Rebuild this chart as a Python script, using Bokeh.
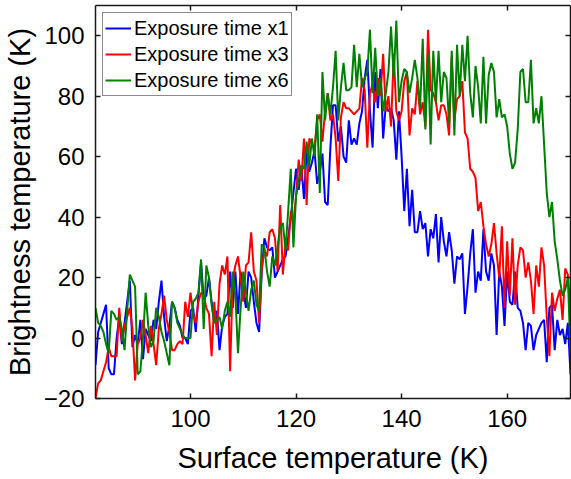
from bokeh.plotting import figure
from bokeh.models import LinearAxis, FixedTicker, Range1d, Legend, LegendItem
from bokeh.embed import file_html
from bokeh.resources import INLINE

# Surface temperature (K), 0.5 K steps
surface_temp = [
    82.0, 82.5, 83.0, 83.5, 84.0, 84.5, 85.0, 85.5, 86.0, 86.5,
    87.0, 87.5, 88.0, 88.5, 89.0, 89.5, 90.0, 90.5, 91.0, 91.5,
    92.0, 92.5, 93.0, 93.5, 94.0, 94.5, 95.0, 95.5, 96.0, 96.5,
    97.0, 97.5, 98.0, 98.5, 99.0, 99.5, 100.0, 100.5, 101.0, 101.5,
    102.0, 102.5, 103.0, 103.5, 104.0, 104.5, 105.0, 105.5, 106.0, 106.5,
    107.0, 107.5, 108.0, 108.5, 109.0, 109.5, 110.0, 110.5, 111.0, 111.5,
    112.0, 112.5, 113.0, 113.5, 114.0, 114.5, 115.0, 115.5, 116.0, 116.5,
    117.0, 117.5, 118.0, 118.5, 119.0, 119.5, 120.0, 120.5, 121.0, 121.5,
    122.0, 122.5, 123.0, 123.5, 124.0, 124.5, 125.0, 125.5, 126.0, 126.5,
    127.0, 127.5, 128.0, 128.5, 129.0, 129.5, 130.0, 130.5, 131.0, 131.5,
    132.0, 132.5, 133.0, 133.5, 134.0, 134.5, 135.0, 135.5, 136.0, 136.5,
    137.0, 137.5, 138.0, 138.5, 139.0, 139.5, 140.0, 140.5, 141.0, 141.5,
    142.0, 142.5, 143.0, 143.5, 144.0, 144.5, 145.0, 145.5, 146.0, 146.5,
    147.0, 147.5, 148.0, 148.5, 149.0, 149.5, 150.0, 150.5, 151.0, 151.5,
    152.0, 152.5, 153.0, 153.5, 154.0, 154.5, 155.0, 155.5, 156.0, 156.5,
    157.0, 157.5, 158.0, 158.5, 159.0, 159.5, 160.0, 160.5, 161.0, 161.5,
    162.0, 162.5, 163.0, 163.5, 164.0, 164.5, 165.0, 165.5, 166.0, 166.5,
    167.0, 167.5, 168.0, 168.5, 169.0, 169.5, 170.0, 170.5, 171.0, 171.5,
    172.0,
]

# Brightness temperature (K), exposure time x1
bt_x1 = [
    -9, 2, 5, 8, 11, -10, -12, -12, 0, 7,
    -2, 5, 12, 19, -3, 1, -2, 6, -7, 3,
    1, -1, 6, 3, 12, 19, 7, -1, 4, 12,
    10, 6, 4, 0, 0, -2, 9, 10, 2, 14,
    25, 13, 14, 20, 12, 5, 9, -4, 4, 7,
    8, 22, 10, 22, 8, 22, 16, 10, 22, 20,
    12, 5, 2, 22, 33, 30, 29, 30, 20, 22,
    24, 26, 27, 33, 40, 48, 56, 49, 57, 46,
    62, 55, 58, 62, 51, 55, 61, 45, 44, 63,
    77, 77, 65, 70, 60, 58, 72, 64, 66, 64,
    71, 75, 86, 92, 75, 63, 88, 76, 89, 66,
    77, 75, 76, 72, 59, 75, 60, 42, 56, 37,
    49, 35, 35, 42, 36, 38, 27, 36, 33, 41,
    25, 40, 32, 27, 35, 29, 18, 27, 26, 28,
    8, 17, 28, 36, 15, 22, 19, 36, 22, 19,
    28, 24, 1, 22, 17, 4, 22, 12, 11, 22,
    10, 9, 5, -4, 5, 4, -4, 1, 3, 5,
    6, -8, 10, 11, -4, 6, 1, 3, -2, 5,
    -12,
]

# Brightness temperature (K), exposure time x3
bt_x3 = [
    -20, -15, -14, -11, -8, -3, -6, -6, -6, 10,
    -1, 4, 7, 10, 3, -14, -2, 0, 6, 1,
    -5, 4, -2, -9, 3, 8, 14, 6, 2, -4,
    -4, -2, -1, -2, 12, 7, 15, 8, 5, 12,
    15, 14, 10, 8, -6, 12, 1, 18, 24, 21,
    27, -11, 19, 24, 27, 20, 12, 24, 25, 35,
    22, 19, 5, 23, 29, 27, 35, 36, 33, 22,
    44, 21, 31, 29, 42, 38, 47, 59, 52, 66,
    44, 66, 64, 63, 72, 74, 65, 75, 81, 72,
    74, 66, 52, 73, 78, 76, 76, 75, 74, 75,
    76, 86, 82, 63, 81, 84, 78, 86, 80, 94,
    75, 80, 70, 94, 75, 72, 75, 85, 88, 67,
    76, 74, 85, 74, 78, 70, 102, 82, 81, 78,
    72, 77, 77, 74, 67, 93, 72, 79, 80, 85,
    68, 66, 56, 55, 53, 42, 45, 37, 31, 27,
    31, 38, 28, 20, 37, 10, 32, 14, 33, 11,
    24, 30, 29, 20, 25, 19, 8, 24, 17, 30,
    24, 7, -6, 15, 9, 13, 16, 6, 23, 21,
    9,
]

# Brightness temperature (K), exposure time x6
bt_x6 = [
    10, 5, 4, 2, -2, -5, 9, 8, 6, 7,
    3, -4, 9, 21, 19, 17, -12, -11, 0, 15,
    4, -3, -1, 10, 7, 2, -1, -5, -9, 12,
    10, 5, 3, 1, 0, 0, 0, 12, 13, 15,
    26, 3, 24, 20, 11, 5, 6, 7, 3, 9,
    12, 7, 22, 14, -5, 10, 22, 15, 9, 16,
    19, 11, 9, 31, 30, 22, 17, 27, 24, 30,
    37, 38, 29, 42, 56, 30, 47, 52, 57, 56,
    65, 57, 66, 60, 74, 48, 88, 72, 81, 74,
    83, 95, 72, 83, 91, 82, 82, 83, 97, 83,
    94, 83, 86, 88, 102, 81, 96, 80, 86, 75,
    81, 88, 103, 86, 105, 78, 85, 89, 88, 81,
    86, 92, 86, 76, 99, 69, 94, 64, 95, 78,
    95, 78, 88, 86, 71, 95, 67, 97, 80, 97,
    85, 100, 81, 73, 90, 83, 71, 93, 71, 87,
    91, 88, 73, 79, 73, 74, 70, 61, 56, 58,
    69, 88, 89, 78, 78, 92, 71, 76, 71, 80,
    64, 48, 40, 45, 32, 26, 19, 14, 16, 20,
    -5,
]

series_labels = ["Exposure time x1", "Exposure time x3", "Exposure time x6"]
series_colors = ["#0000ff", "#ff0000", "#008000"]
x_ticks = [100, 120, 140, 160]
y_ticks = [-20, 0, 20, 40, 60, 80, 100]
x_title = "Surface temperature (K)"
y_title = "Brightness temperature (K)"

FONT = "Liberation Sans"
AXIS_COLOR = "#1a1a1a"

p = figure(
    width=571, height=479,
    output_backend="svg", toolbar_location=None,
    x_range=Range1d(82, 172), y_range=Range1d(-20, 110),
    x_axis_location=None, y_axis_location=None,
    min_border_left=95, min_border_right=1,
    min_border_top=5, min_border_bottom=81,
)
p.outline_line_color = None
p.xgrid.visible = False
p.ygrid.visible = False
p.background_fill_color = "white"
p.border_fill_color = "white"


def style_axis(ax, ticks, show_labels):
    ax.ticker = FixedTicker(ticks=ticks)
    ax.axis_line_color = AXIS_COLOR
    ax.axis_line_width = 1.5
    ax.major_tick_line_color = AXIS_COLOR
    ax.major_tick_line_width = 1.5
    ax.major_tick_in = 5
    ax.major_tick_out = 0
    ax.minor_tick_in = 0
    ax.minor_tick_out = 0
    ax.minor_tick_line_color = None
    if show_labels:
        ax.major_label_text_font = FONT
        ax.major_label_text_font_size = "24px"
        ax.major_label_text_color = "black"
        ax.axis_label_text_font = FONT
        ax.axis_label_text_font_size = "29px"
        ax.axis_label_text_font_style = "normal"
        ax.axis_label_text_color = "black"
    else:
        ax.major_label_overrides = {t: "" for t in ticks}
        ax.major_label_text_font_size = "2px"
        ax.major_label_standoff = 0


x_bottom = LinearAxis(axis_label=x_title)
style_axis(x_bottom, x_ticks, True)
x_bottom.major_label_standoff = 11
x_bottom.axis_label_standoff = 12
p.add_layout(x_bottom, "below")

y_left = LinearAxis(axis_label=y_title)
style_axis(y_left, y_ticks, True)
y_left.major_label_standoff = 11
y_left.axis_label_standoff = 5
p.add_layout(y_left, "left")

x_top = LinearAxis()
style_axis(x_top, x_ticks, False)
p.add_layout(x_top, "above")

y_right = LinearAxis()
style_axis(y_right, y_ticks, False)
p.add_layout(y_right, "right")

renderers = []
for ys, col in zip([bt_x1, bt_x3, bt_x6], series_colors):
    r = p.line(surface_temp, ys, line_color=col, line_width=2)
    renderers.append(r)

legend = Legend(
    items=[LegendItem(label=lab, renderers=[r]) for lab, r in zip(series_labels, renderers)],
    location="top_left",
    margin=7, padding=2, spacing=0,
    glyph_width=26, glyph_height=26,
    label_height=26, label_standoff=3,
    label_text_font=FONT, label_text_font_size="20px", label_text_color="black",
    border_line_color=AXIS_COLOR, border_line_width=1.2,
    background_fill_color="white", background_fill_alpha=1.0,
)
p.add_layout(legend)

open("out.html", "w").write(file_html(p, INLINE))
